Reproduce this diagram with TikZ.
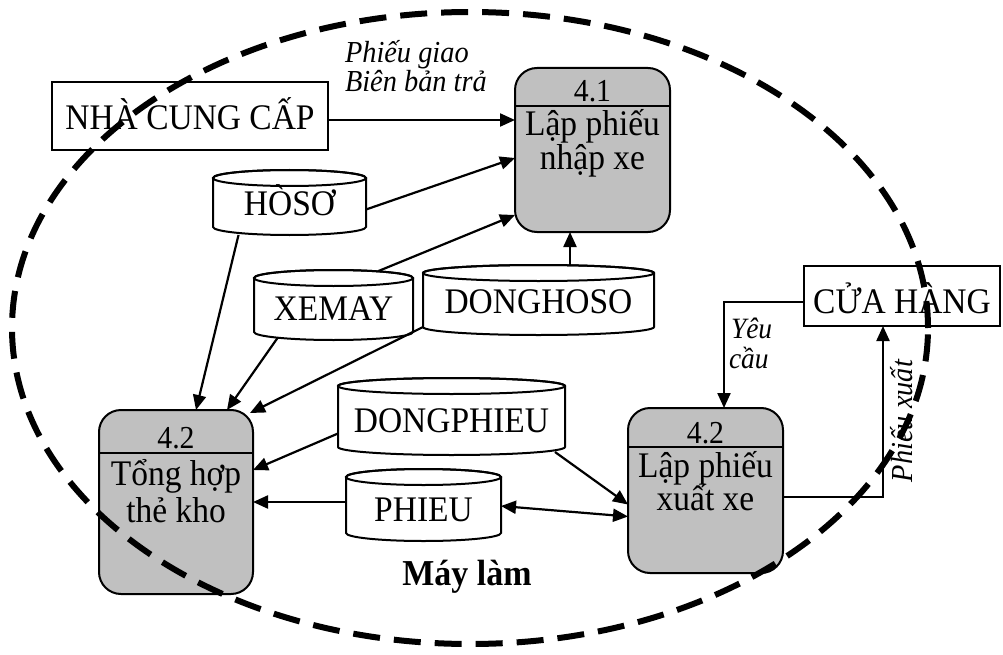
\documentclass[tikz,border=0pt]{standalone}
\usepackage{fontspec}
\setmainfont{Liberation Serif}[FakeStretch=0.93]
\usetikzlibrary{arrows.meta,calc}
\definecolor{procgray}{RGB}{192,192,192}

% outline of a data store (vertical cylinder) around a named node
% #1 node name, #2 half width in pt
\newcommand\storeoutline[2]{%
  \draw[line width=2pt, fill=white]
    ($(#1.north west)+(0,8)$) -- ($(#1.south west)+(0,-8)$)
    arc[start angle=180, end angle=360, x radius=#2pt, y radius=8pt]
    -- ($(#1.north east)+(0,8)$)
    arc[start angle=0, end angle=180, x radius=#2pt, y radius=8pt] -- cycle;
  \draw[line width=2pt] ($(#1.north)+(0,8)$) ellipse[x radius=#2pt, y radius=8pt];
}

\begin{document}
\begin{tikzpicture}[x=1pt, y=-1pt,
  every node/.style={inner sep=0pt, outer sep=0pt},
  big/.style={font=\fontsize{36}{38}\selectfont},
  num/.style={font=\fontsize{32}{34}\selectfont},
  flowlbl/.style={font=\fontsize{30.5}{32}\selectfont\itshape},
  smalllbl/.style={font=\fontsize{29.5}{31}\selectfont\itshape},
  proc/.style={draw, line width=2pt, fill=procgray, rounded corners=22pt},
  ext/.style={draw, line width=2pt, fill=white},
  store/.style={},
  flow/.style={line width=2.2pt, -{Triangle[length=15pt, width=13pt]}},
  twoway/.style={line width=2.2pt, {Triangle[length=15pt, width=13pt]}-{Triangle[length=15pt, width=13pt]}},
  boundary/.style={line width=6pt, dash pattern=on 27pt off 14pt},
  divider/.style={line width=2pt}
]
\useasboundingbox (0,0) rectangle (1003,655);

% ---------- external entities ----------
\node[ext, minimum width=276pt, minimum height=68pt] (ncc) at (190,116) {};
\node[big, anchor=base] (ncct) at (190,130) {NHÀ CUNG CẤP};
\node[ext, minimum width=196pt, minimum height=60pt] (ch) at (902,296) {};
\node[big, anchor=base] (cht) at (902,313) {CỬA HÀNG};

% ---------- processes ----------
\node[proc, minimum width=155pt, minimum height=164pt] (p41) at (592.5,150) {};
\draw[divider] ($(p41.north west)+(0,38)$) -- ($(p41.north east)+(0,38)$);
\node[num, anchor=base] (p41n) at (592.5,102) {4.1};
\node[big, anchor=base] (p41a) at (592.5,136) {Lập phiếu};
\node[big, anchor=base] (p41b) at (592.5,170) {nhập xe};

\node[proc, minimum width=154pt, minimum height=184pt] (p42t) at (176,502) {};
\draw[divider] ($(p42t.north west)+(0,43)$) -- ($(p42t.north east)+(0,43)$);
\node[num, anchor=base] (p42tn) at (176,448) {4.2};
\node[big, anchor=base] (p42ta) at (176,485) {Tổng hợp};
\node[big, anchor=base] (p42tb) at (176,522) {thẻ kho};

\node[proc, minimum width=155pt, minimum height=165pt] (p42x) at (705.5,490.5) {};
\draw[divider] ($(p42x.north west)+(0,39)$) -- ($(p42x.north east)+(0,39)$);
\node[num, anchor=base] (p42xn) at (705.5,443) {4.2};
\node[big, anchor=base] (p42xa) at (705.5,477) {Lập phiếu};
\node[big, anchor=base] (p42xb) at (705.5,510) {xuất xe};

% ---------- data stores ----------
\node[store, minimum width=153pt, minimum height=65pt] (hoso) at (289.5,202.5) {};
\storeoutline{hoso}{76.5}
\node[big, anchor=base] (hosot) at (289.5,215) {HÒSƠ};

\node[store, minimum width=159pt, minimum height=70pt] (xemay) at (333.5,305) {};
\storeoutline{xemay}{79.5}
\node[big, anchor=base] (xemayt) at (333.5,320) {XEMAY};

\node[store, minimum width=231pt, minimum height=70pt] (donghoso) at (538.5,300) {};
\storeoutline{donghoso}{115.5}
\node[big, anchor=base] (donghosot) at (538.5,313) {DONGHOSO};

\node[store, minimum width=227pt, minimum height=77pt] (dongphieu) at (451.5,416.5) {};
\storeoutline{dongphieu}{113.5}
\node[big, anchor=base] (dongphieut) at (451.5,432) {DONGPHIEU};

\node[store, minimum width=155pt, minimum height=72pt] (phieu) at (423.5,505) {};
\storeoutline{phieu}{77.5}
\node[big, anchor=base] (phieut) at (423.5,521) {PHIEU};

% ---------- flows ----------
\draw[flow] ($(ncc.east)+(0,4)$) -- ($(p41.west)+(0,-30)$);
\node[flowlbl, anchor=base west] (lblgiao) at (345,63) {Phiếu giao};
\node[flowlbl, anchor=base west] (lblbb) at (345,92) {Biên bản trả};

\draw[flow] ($(hoso.east)+(0,7)$) -- ($(p41.west)+(0,8)$);
\draw[flow] ($(xemay.north)+(45,1)$) -- ($(p41.west)+(0,65)$);
\draw[flow] ($(donghoso.north)+(31.5,0)$) coordinate (dhup) -- (dhup |- p41.south);

\draw[flow] ($(hoso.south)+(-51,0)$) -- ($(p42t.north)+(20,0)$);
\draw[flow] ($(xemay.south)+(-56,-2)$) -- ($(p42t.north)+(51,0)$);
\draw[flow] ($(donghoso.west)+(0,27)$) -- ($(p42t.north east)+(-3,3)$);
\draw[flow] ($(dongphieu.west)+(0,17)$) -- ($(p42t.east)+(0,-32)$);
\draw[flow] ($(phieu.west)+(0,-3)$) -- (p42t.east);

\draw[flow] ($(dongphieu.south east)+(-10,-3)$) -- ($(p42x.west)+(0,14)$);
\draw[twoway] ($(phieu.east)+(0,1)$) -- ($(p42x.west)+(0,26)$);

\draw[flow] ($(ch.west)+(0,6)$) -| ($(p42x.north)+(18.5,0)$);
\node[smalllbl, anchor=base west] (lblyeu) at (731,338) {Yêu};
\node[smalllbl, anchor=base west] (lblcau) at (729,368) {cầu};

\draw[flow] ($(p42x.east)+(0,6.5)$) -| ($(ch.south)+(-19,0)$);
\node[flowlbl, anchor=base, rotate=90] (lblxuat) at (912,421) {Phiếu xuất};

% ---------- system boundary ----------
\node[font=\fontsize{36.5}{38}\selectfont\bfseries, anchor=base] (maylam) at (467,585) {Máy làm};
\coordinate (sys) at (470,328);
\draw[boundary] (sys) ellipse[x radius=458pt, y radius=316pt];
\end{tikzpicture}
\end{document}
